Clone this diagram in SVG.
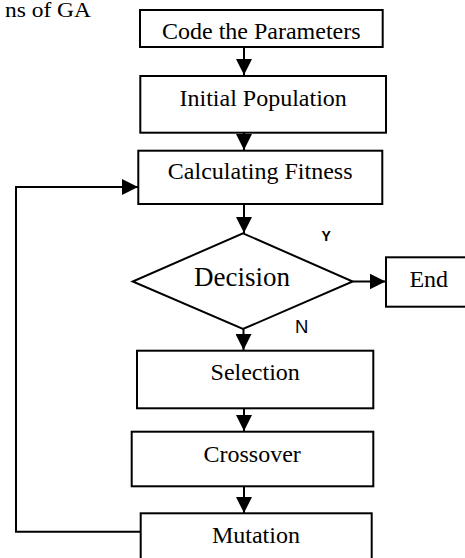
<svg xmlns="http://www.w3.org/2000/svg" width="465" height="558" viewBox="0 0 465 558">
<style>
.box{fill:#fff;stroke:#000;stroke-width:2}
.t{font-family:"Liberation Serif","Times New Roman",serif;font-size:24px;fill:#000;text-anchor:middle}
.lbl{font-family:"Liberation Sans",Arial,sans-serif;fill:#000}
.con{fill:none;stroke:#000;stroke-width:2}
</style>
<defs>
<marker id="ah" markerUnits="userSpaceOnUse" markerWidth="16" markerHeight="16" viewBox="0 0 15 15" refX="15" refY="7.5" orient="auto">
<path d="M0,0 L15,7.5 L0,15 Z" fill="#000"/>
</marker>
</defs>
<rect width="465" height="558" fill="#fff"/>
<text x="91" y="17" class="t" style="text-anchor:end;font-size:21px" textLength="86" lengthAdjust="spacingAndGlyphs">ns of GA</text>
<g id="connectors">
<line class="con" x1="244" y1="47" x2="244" y2="75" marker-end="url(#ah)"/>
<line class="con" x1="244" y1="133" x2="244" y2="150" marker-end="url(#ah)"/>
<line class="con" x1="244" y1="204" x2="244" y2="233" marker-end="url(#ah)"/>
<line class="con" x1="243.5" y1="329" x2="243.5" y2="350" marker-end="url(#ah)"/>
<line class="con" x1="244" y1="408" x2="244" y2="431" marker-end="url(#ah)"/>
<line class="con" x1="244" y1="486" x2="244" y2="513" marker-end="url(#ah)"/>
<line class="con" x1="352.7" y1="281.5" x2="385.5" y2="281.5" marker-end="url(#ah)"/>
<path class="con" d="M140.7,531.7 H16 V187 H138" marker-end="url(#ah)"/>
<text class="lbl" x="321.5" y="240.7" font-size="14" font-weight="bold">Y</text>
<text class="lbl" x="295" y="333.3" font-size="18.5">N</text>
</g>
<g id="code">
<rect class="box" x="140" y="10" width="242.7" height="37"/>
<text class="t" x="261.3" y="39.3">Code the Parameters</text>
</g>
<g id="initial">
<rect class="box" x="140.3" y="76" width="245.7" height="56.7"/>
<text class="t" x="263.2" y="106">Initial Population</text>
</g>
<g id="fitness">
<rect class="box" x="138.3" y="150.7" width="244" height="53.3"/>
<text class="t" x="260.2" y="179.3">Calculating Fitness</text>
</g>
<g id="decision">
<polygon class="box" points="243,233.3 352.7,281.5 243,329 132.7,281.5"/>
<text class="t" x="242" y="286" style="font-size:27px">Decision</text>
</g>
<g id="end">
<rect class="box" x="386" y="257.3" width="90" height="49.4"/>
<text class="t" x="428.8" y="287.3">End</text>
</g>
<g id="selection">
<rect class="box" x="137" y="350.7" width="236.3" height="57.6"/>
<text class="t" x="255.2" y="380">Selection</text>
</g>
<g id="crossover">
<rect class="box" x="131.7" y="431.7" width="241.6" height="54.6"/>
<text class="t" x="252.2" y="461.7">Crossover</text>
</g>
<g id="mutation">
<rect class="box" x="140.7" y="513.3" width="231" height="60"/>
<text class="t" x="255.9" y="543.3">Mutation</text>
</g>
</svg>
